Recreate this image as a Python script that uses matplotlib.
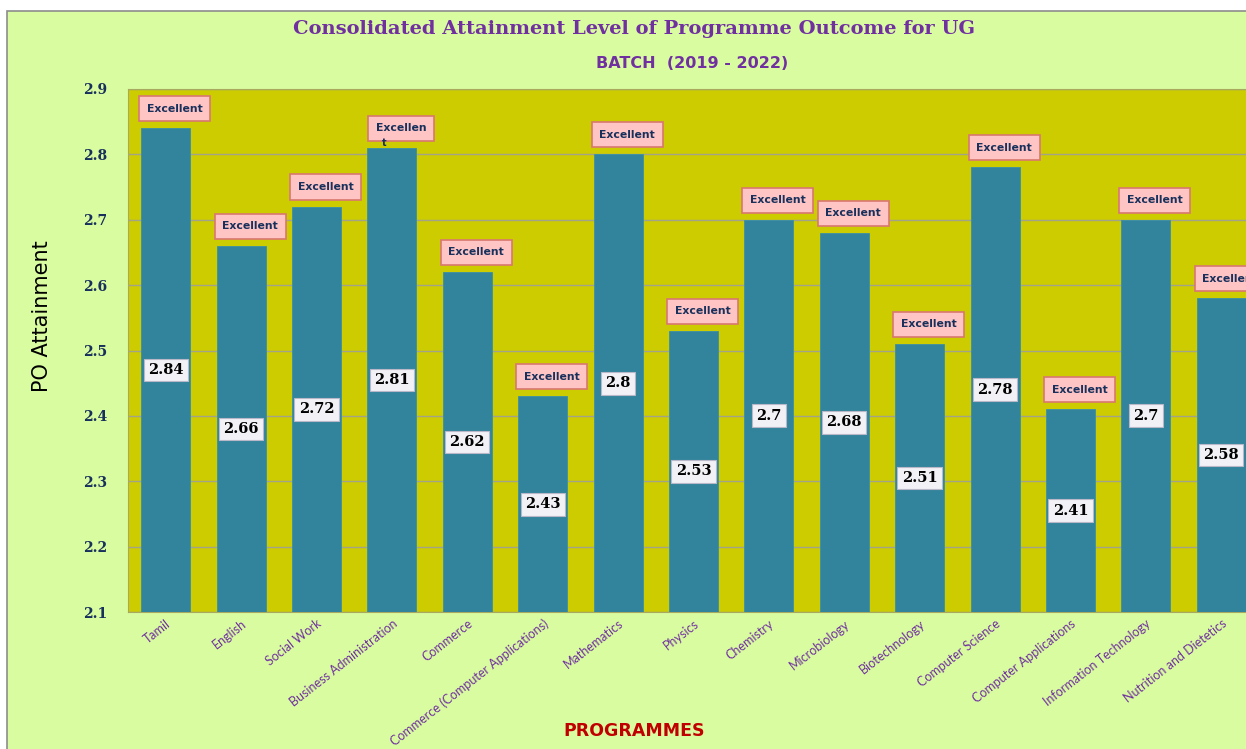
import matplotlib.pyplot as plt
from matplotlib.patches import Rectangle

# chart data
programmes = ['Tamil', 'English', 'Social Work', 'Business Administration', 'Commerce',
              'Commerce (Computer Applications)', 'Mathematics', 'Physics', 'Chemistry',
              'Microbiology', 'Biotechnology', 'Computer Science', 'Computer Applications',
              'Information Technology', 'Nutrition and Dietetics']
attainment = [2.84, 2.66, 2.72, 2.81, 2.62, 2.43, 2.8, 2.53, 2.7, 2.68, 2.51, 2.78, 2.41, 2.7, 2.58]
ratings = ['Excellent', 'Excellent', 'Excellent', 'Excellen\nt', 'Excellent', 'Excellent',
           'Excellent', 'Excellent', 'Excellent', 'Excellent', 'Excellent', 'Excellent',
           'Excellent', 'Excellent', 'Excellent']
y_ticks = [2.1, 2.2, 2.3, 2.4, 2.5, 2.6, 2.7, 2.8, 2.9]

purple = '#7030A0'
navy = '#17305C'

fig = plt.figure(figsize=(12.46, 7.49), dpi=100)
fig.patch.set_facecolor('white')
# light green chart area with thin grey border
fig.patches.append(Rectangle((7 / 1246, -0.01), 1.1, 1 - 11 / 749 + 0.01, transform=fig.transFigure,
                             facecolor='#DAFCA0', edgecolor='#8C8C8C', linewidth=1.2, zorder=-5))

ax = fig.add_axes([128 / 1246, 1 - 612 / 749, 1131 / 1246, 523 / 749])
ax.set_facecolor('#CCCC00')

x = range(len(programmes))
ax.bar(x, [v - 2.1 for v in attainment], bottom=2.1, width=0.65, color='#31849B',
       edgecolor='#3A90A6', linewidth=0.6, zorder=3)
ax.set_xlim(-0.5, len(programmes) - 0.5)
ax.set_ylim(2.1, 2.9)
ax.set_yticks(y_ticks)
ax.set_yticklabels([str(t) for t in y_ticks], fontfamily='DejaVu Serif', fontweight='bold',
                   fontsize=10, color=navy)
ax.yaxis.grid(True, color='#A3A38A', linewidth=1.0, zorder=1)
ax.set_axisbelow(True)
ax.tick_params(axis='y', length=0, pad=15)
ax.tick_params(axis='x', length=0, pad=4)
ax.set_xticks(list(x))
ax.set_xticklabels(programmes, rotation=38, ha='right', rotation_mode='anchor',
                   fontfamily='Lato', fontsize=9, color=purple)
for s in ax.spines.values():
    s.set_color('#A8A860')
    s.set_linewidth(0.8)

# value labels in the middle of the bars and rating labels on top
for i, v in enumerate(attainment):
    ax.text(i, (2.1 + v) / 2, str(v), ha='center', va='center', fontfamily='DejaVu Serif',
            fontweight='bold', fontsize=10.5, color='black', zorder=5,
            bbox=dict(boxstyle='square,pad=0.3', facecolor='#F1F1F6', edgecolor='#B8B8C8', linewidth=0.8))
    lines = ratings[i].split('\n')
    ax.text(i + 0.12, v + 0.03, lines[0], ha='center', va='center', fontfamily='DejaVu Sans',
            fontweight='bold', fontsize=7.8, color=navy, zorder=5,
            bbox=dict(boxstyle='square,pad=0.7', facecolor='#FFC4C4', edgecolor='#D9776F', linewidth=1.2))
    if len(lines) > 1:
        ax.text(i - 0.1, v + 0.008, lines[1], ha='center', va='center', fontfamily='DejaVu Sans',
                fontweight='bold', fontsize=7, color=navy, zorder=5)

ax.set_ylabel('PO Attainment', fontfamily='DejaVu Sans', fontsize=15, color='black')
ax.yaxis.set_label_coords(-0.067, 0.566)
fig.text(634 / 1246, 1 - 731 / 749, 'PROGRAMMES', ha='center', va='center', fontfamily='DejaVu Sans',
         fontweight='bold', fontsize=12.5, color='#C00000')
fig.text(634 / 1246, 1 - 29 / 749, 'Consolidated Attainment Level of Programme Outcome for UG',
         ha='center', va='center', fontfamily='DejaVu Serif', fontweight='bold', fontsize=14, color=purple)
fig.text(692 / 1246, 1 - 64 / 749, 'BATCH  (2019 - 2022)', ha='center', va='center',
         fontfamily='DejaVu Sans', fontweight='bold', fontsize=11.5, color=purple)

fig.savefig('out.png', dpi=100)
